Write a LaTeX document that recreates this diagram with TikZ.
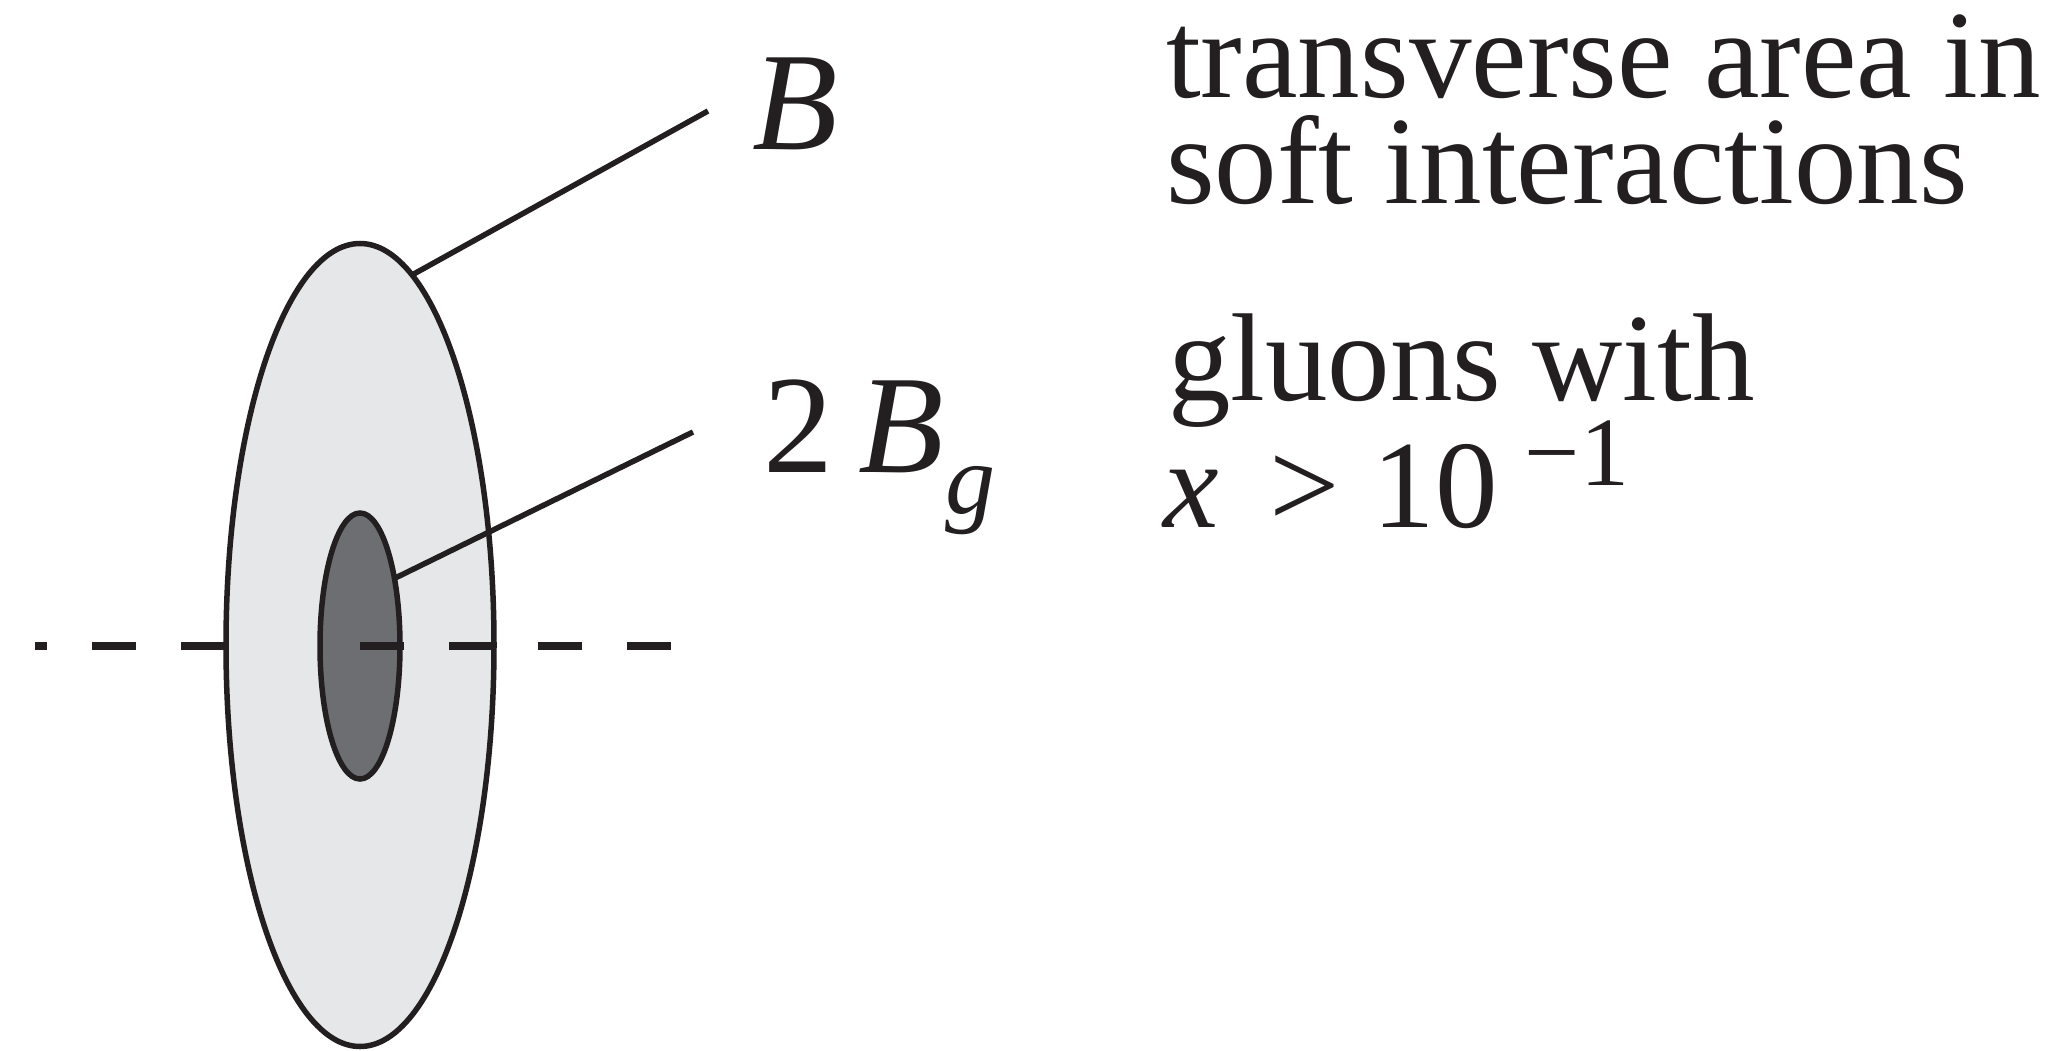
\documentclass[tikz,border=0pt]{standalone}
\usepackage{fontspec}
\setmainfont{Liberation Serif}
\usetikzlibrary{shapes.geometric}
\definecolor{ink}{HTML}{231F20}
\definecolor{disklight}{HTML}{E6E7E8}
\definecolor{diskdark}{HTML}{6D6E71}
\begin{document}
\begin{tikzpicture}[x=1pt,y=-1pt,
  disk/.style={ellipse, draw=ink, line width=5.5pt, inner sep=0pt, outer sep=0pt},
  leader/.style={draw=ink, line width=5.5pt},
  axisline/.style={draw=ink, line width=7.5pt, dash pattern=on 44pt off 45pt},
  txt/.style={anchor=base west, inner sep=0pt, outer sep=0pt, text=ink, font=\fontsize{125pt}{106pt}\selectfont, align=left},
  lbl/.style={anchor=base west, inner sep=0pt, outer sep=0pt, text=ink, font=\fontsize{140pt}{140pt}\selectfont}]
\useasboundingbox (0,0) rectangle (2059,1051);
\coordinate (axL) at (35,646);
\coordinate (axC) at (360,646);
\coordinate (axR) at (672,646);
\draw[axisline, dash phase=32pt] (axL) -- (axC);
\node[disk, fill=disklight, minimum width=268pt, minimum height=803pt] (outer) at (360,645) {};
\node[disk, fill=diskdark, minimum width=80pt, minimum height=266pt] (inner) at (360,646) {};
\draw[axisline] (axC) -- (axR);
\node[lbl] (B) at (752,150) {\itshape B};
\node[lbl] (twoBg) at (763,472) {2\hspace{25pt}{\itshape B}\hspace{2pt}\raisebox{-41pt}{\fontsize{100pt}{100pt}\selectfont\itshape g}};
\coordinate (Bend) at (708,111);
\coordinate (Bgend) at (693,432);
\draw[leader] (outer.82.74) -- (Bend);
\draw[leader] (inner.63) -- (Bgend);
\node[txt] (soft) at (1166,204) {transverse area in\\soft interactions};
\node[txt] (glu) at (1168,527) {gluons with\\[15pt]\hspace*{-5pt}{\itshape x}\hspace{51pt}>\hspace{33pt}10\hspace{27pt}\raisebox{42pt}[0pt][0pt]{\fontsize{98pt}{98pt}\selectfont −1}};
\end{tikzpicture}
\end{document}
